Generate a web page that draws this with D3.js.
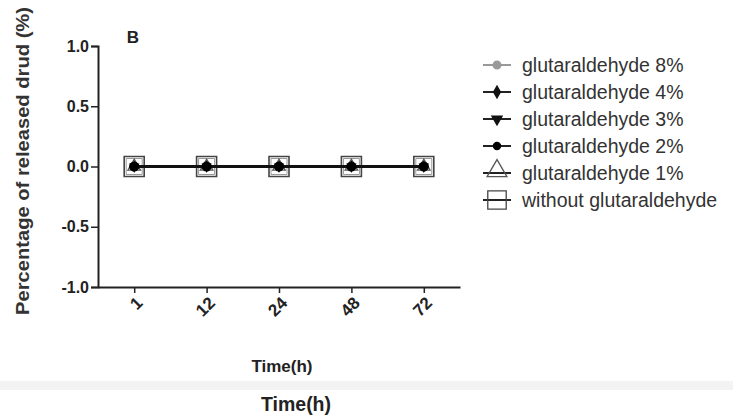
<!DOCTYPE html>
<html>
<head>
<meta charset="utf-8">
<script src="https://cdn.jsdelivr.net/npm/d3@7"></script>
<style>
  body { margin: 0; background: #fff; }
  text { font-family: "Liberation Sans", Arial, sans-serif; }
</style>
</head>
<body>
<script>
// time points (h)
var times = ["1", "12", "24", "48", "72"];
var yTicks = [-1.0, -0.5, 0.0, 0.5, 1.0];

var seriesNames = [
  "glutaraldehyde 8%",
  "glutaraldehyde 4%",
  "glutaraldehyde 3%",
  "glutaraldehyde 2%",
  "glutaraldehyde 1%",
  "without glutaraldehyde"
];
var ga8 = [0, 0, 0, 0, 0];
var ga4 = [0, 0, 0, 0, 0];
var ga3 = [0, 0, 0, 0, 0];
var ga2 = [0, 0, 0, 0, 0];
var ga1 = [0, 0, 0, 0, 0];
var noGa = [0, 0, 0, 0, 0];
var seriesValues = [ga8, ga4, ga3, ga2, ga1, noGa];

var width = 733, height = 417;
var font = "Liberation Sans, Arial, sans-serif";

var svg = d3.select("body").append("svg")
  .attr("width", width)
  .attr("height", height);

var x = d3.scalePoint().domain(times).range([98, 460]).padding(0.5);
var y = d3.scaleLinear().domain([-1, 1]).range([287, 46]);

// marker look per series: plot size, legend size
var markers = [
  {type: d3.symbolCircle, size: 40, leg: 45, fill: "#999", stroke: "#999"},
  {type: d3.symbolDiamond, size: 30, leg: 40, fill: "#111", stroke: "#111"},
  {type: d3.symbolTriangle, size: 30, leg: 45, fill: "#111", stroke: "#111", rot: 180},
  {type: d3.symbolCircle, size: 64, leg: 40, fill: "#000", stroke: "#000"},
  {type: d3.symbolTriangle, size: 70, leg: 170, fill: "none", stroke: "#555"},
  {type: d3.symbolSquare, size: 400, leg: 340, fill: "none", stroke: "#444"}
];

var line = d3.line()
  .x(function (d, i) { return x(times[i]); })
  .y(function (d) { return y(d); });

// axes
var yAxis = svg.append("g")
  .attr("transform", "translate(98,0)")
  .call(d3.axisLeft(y).tickValues(yTicks)
    .tickFormat(function (d) { return d3.format(".1f")(d).replace("\u2212", "-"); })
    .tickSize(7).tickPadding(2));
yAxis.select(".domain").attr("stroke", "#222").attr("stroke-width", 2);
yAxis.selectAll(".tick line").attr("stroke", "#222").attr("stroke-width", 1.5);
yAxis.selectAll(".tick text")
  .attr("font-size", 16).attr("font-weight", "bold").attr("fill", "#222")
  .attr("font-family", font);

var xAxis = svg.append("g")
  .attr("transform", "translate(0,287)")
  .call(d3.axisBottom(x).tickSize(6).tickSizeOuter(0));
xAxis.select(".domain").attr("stroke", "#222").attr("stroke-width", 2);
xAxis.selectAll(".tick line").attr("stroke", "#222").attr("stroke-width", 1.5);
xAxis.selectAll(".tick text")
  .attr("font-size", 17).attr("font-weight", "bold").attr("fill", "#222")
  .attr("font-family", font)
  .attr("text-anchor", "end")
  .attr("dy", null)
  .attr("y", 0)
  .attr("transform", "translate(9,17) rotate(-45)");

// series, back to front so the 2% dot ends on top
var order = [5, 4, 0, 1, 2, 3];
order.forEach(function (s) {
  var m = markers[s];
  svg.append("path")
    .datum(seriesValues[s])
    .attr("fill", "none")
    .attr("stroke", "#111")
    .attr("stroke-width", 2.5)
    .attr("d", line);
  var g = svg.append("g").selectAll("g")
    .data(seriesValues[s])
    .enter()
    .append("g")
    .attr("transform", function (d, i) {
      return "translate(" + x(times[i]) + "," + y(d) + ")" + (m.rot ? " rotate(" + m.rot + ")" : "");
    });
  g.append("path")
    .attr("d", d3.symbol().type(m.type).size(m.size))
    .attr("fill", m.fill)
    .attr("stroke", m.stroke)
    .attr("stroke-width", s === 5 ? 1.6 : 1.2);
  if (s === 5) {
    g.append("path")
      .attr("d", d3.symbol().type(m.type).size(256))
      .attr("fill", "none")
      .attr("stroke", "#999")
      .attr("stroke-width", 1);
  }
});

// panel letter
svg.append("text").attr("x", 133).attr("y", 43)
  .attr("text-anchor", "middle").attr("font-size", 17).attr("font-weight", "bold")
  .attr("fill", "#222").text("B");

// y title
svg.append("text")
  .attr("transform", "translate(29,161) rotate(-90)")
  .attr("text-anchor", "middle")
  .attr("font-size", 18).attr("font-weight", "bold").attr("fill", "#333")
  .attr("textLength", 308).attr("lengthAdjust", "spacingAndGlyphs")
  .text("Percentage of released drud (%)");

// x title
svg.append("text").attr("x", 282).attr("y", 372)
  .attr("text-anchor", "middle").attr("font-size", 17).attr("font-weight", "bold")
  .attr("fill", "#222").text("Time(h)");

// lower band and repeated title
svg.append("rect").attr("x", 0).attr("y", 381).attr("width", width).attr("height", 9)
  .attr("fill", "#f3f3f3");
svg.append("text").attr("x", 296).attr("y", 411)
  .attr("text-anchor", "middle").attr("font-size", 19.5).attr("font-weight", "bold")
  .attr("fill", "#222").text("Time(h)");

// legend
var legend = svg.append("g").selectAll("g")
  .data(seriesNames)
  .enter()
  .append("g")
  .attr("transform", function (d, i) { return "translate(497," + (65 + i * 27) + ")"; });

legend.append("line")
  .attr("x1", -14).attr("x2", 14)
  .attr("stroke", function (d, i) { return i === 0 ? "#999" : "#222"; })
  .attr("stroke-width", 2);
legend.append("path")
  .attr("d", function (d, i) { return d3.symbol().type(markers[i].type).size(markers[i].leg)(); })
  .attr("fill", function (d, i) { return markers[i].fill; })
  .attr("stroke", function (d, i) { return markers[i].stroke; })
  .attr("stroke-width", 1.3)
  .attr("transform", function (d, i) {
    if (markers[i].rot) return "rotate(" + markers[i].rot + ")";
    if (i === 4) return "translate(0,-2)";
    return null;
  });
legend.append("text")
  .attr("x", 25).attr("y", 7)
  .attr("font-size", 19.5).attr("fill", "#333")
  .text(function (d) { return d; });
</script>
</body>
</html>
